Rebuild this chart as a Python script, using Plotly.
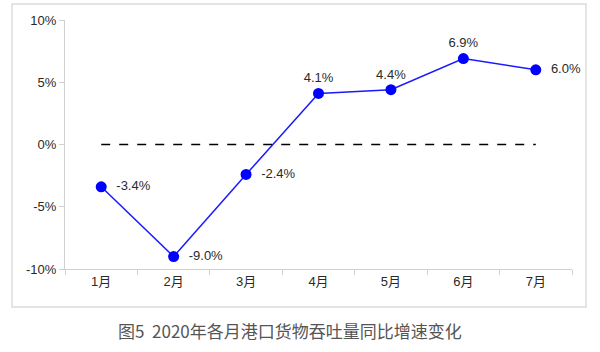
import plotly.graph_objects as go

months = ["1月", "2月", "3月", "4月", "5月", "6月", "7月"]
growth = [-3.4, -9.0, -2.4, 4.1, 4.4, 6.9, 6.0]
label_pos = ["middle right", "middle right", "middle right", "top center", "top center", "top center", "middle right"]
zero_line = [0] * len(months)
y_ticks = [-10, -5, 0, 5, 10]
y_tick_labels = ["-10%", "-5%", "0%", "5%", "10%"]
title_text = "图5\u00a0\u00a02020年各月港口货物吞吐量同比增速变化"

fig = go.Figure()
fig.add_trace(go.Scatter(
    x=months, y=zero_line, mode="lines",
    line=dict(color="#000000", width=1.3, dash="dash"),
    hoverinfo="skip", showlegend=False,
))
fig.add_trace(go.Scatter(
    x=months, y=growth, mode="lines+markers+text",
    line=dict(color="#1a1aff", width=1.5),
    marker=dict(color="#0000ff", size=11),
    text=["\u00a0\u00a0" + f"{v:.1f}%" if p == "middle right" else f"{v:.1f}%" for v, p in zip(growth, label_pos)],
    textposition=label_pos,
    cliponaxis=False,
    textfont=dict(family="Liberation Sans, Arial, Noto Sans CJK SC", size=13, color="#2a2a2a"),
    showlegend=False,
))

fig.update_layout(
    width=600, height=352,
    margin=dict(l=65, r=28, t=20, b=83),
    paper_bgcolor="white", plot_bgcolor="white",
    font=dict(family="Liberation Sans, Arial, Noto Sans CJK SC", size=13, color="#2a2a2a"),
    xaxis=dict(
        type="category", range=[-0.5, 6.5],
        showline=True, linecolor="#d0d0d0", linewidth=1,
        ticks="outside", tickson="boundaries", ticklen=5, tickcolor="#d0d0d0",
        showgrid=False, zeroline=False,
        tickfont=dict(size=13, color="#2a2a2a"),
    ),
    yaxis=dict(
        range=[-10, 10], tickmode="array", tickvals=y_ticks, ticktext=y_tick_labels,
        showline=True, linecolor="#d0d0d0", linewidth=1,
        ticks="outside", ticklen=5, tickcolor="#d0d0d0",
        showgrid=False, zeroline=False,
        tickfont=dict(size=13, color="#2a2a2a"),
    ),
    shapes=[dict(
        type="rect", xref="paper", yref="paper",
        x0=-0.1045, x1=1.0276, y0=-0.1526, y1=1.0643,
        line=dict(color="#dcdcdc", width=1.5), fillcolor="rgba(0,0,0,0)", layer="below",
    )],
    annotations=[dict(
        text=title_text, xref="paper", yref="paper",
        x=0.444, y=-0.245, showarrow=False, xanchor="center", yanchor="middle",
        font=dict(family="Noto Sans CJK SC", size=17, color="#555555"),
    )],
)

fig.write_html("out.html")
